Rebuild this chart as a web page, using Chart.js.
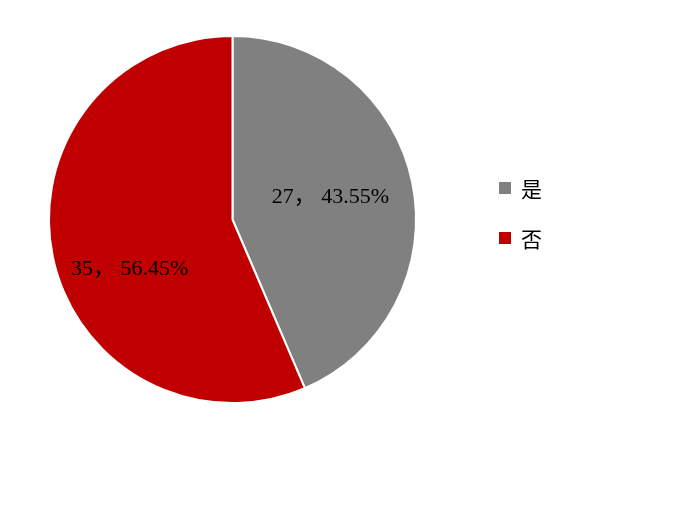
<!DOCTYPE html>
<html><head><meta charset="utf-8">
<script src="https://cdn.jsdelivr.net/npm/chart.js@4/dist/chart.umd.min.js"></script>
<style>html,body{margin:0;padding:0;background:#fff;}#wrap{width:688px;height:515px;position:relative;}</style>
</head><body><div id="wrap"><canvas id="c" width="688" height="515"></canvas></div>
<script>
const categories = ['是', '否'];
const counts = [27, 35];
const colors = ['#808080', '#C00000'];

const total = counts.reduce((a, b) => a + b, 0);

const labelPlugin = {
  id: 'sliceLabels',
  afterDatasetsDraw(chart) {
    const ctx = chart.ctx;
    const meta = chart.getDatasetMeta(0);
    const nudges = [[-1, -2], [-4, 29]];
    ctx.save();
    ctx.font = '22px "Liberation Serif", "Noto Sans CJK SC", serif';
    ctx.fillStyle = '#000';
    ctx.textAlign = 'center';
    ctx.textBaseline = 'middle';
    meta.data.forEach((arc, i) => {
      const p = arc.getProps(['x', 'y', 'startAngle', 'endAngle', 'outerRadius'], true);
      const mid = (p.startAngle + p.endAngle) / 2;
      const r = p.outerRadius * 0.55;
      const x = p.x + Math.cos(mid) * r + nudges[i][0];
      const y = p.y + Math.sin(mid) * r + nudges[i][1];
      const pct = (counts[i] / total * 100).toFixed(2) + '%';
      ctx.fillText(counts[i] + '， ' + pct, x, y);
    });
    ctx.restore();
  }
};

const legendPlugin = {
  id: 'sideLegend',
  afterDraw(chart) {
    const ctx = chart.ctx;
    const area = chart.chartArea;
    const x0 = area.right + 82;
    const y0 = 188, gap = 50;
    ctx.save();
    ctx.font = '21px "Noto Sans CJK SC", sans-serif';
    ctx.textBaseline = 'middle';
    ctx.textAlign = 'left';
    categories.forEach((c, i) => {
      const y = y0 + i * gap;
      ctx.fillStyle = colors[i];
      ctx.fillRect(x0, y - 6, 12, 12);
      ctx.fillStyle = '#000';
      ctx.fillText(c, x0 + 22, y + 1);
    });
    ctx.restore();
  }
};

new Chart(document.getElementById('c'), {
  type: 'pie',
  data: {
    labels: categories,
    datasets: [{
      data: counts,
      backgroundColor: colors,
      borderColor: '#ffffff',
      borderWidth: 2
    }]
  },
  options: {
    responsive: false,
    animation: false,
    layout: { padding: { left: 48, right: 271, top: 35, bottom: 111 } },
    plugins: { legend: { display: false }, tooltip: { enabled: false } }
  },
  plugins: [labelPlugin, legendPlugin]
});
</script></body></html>
